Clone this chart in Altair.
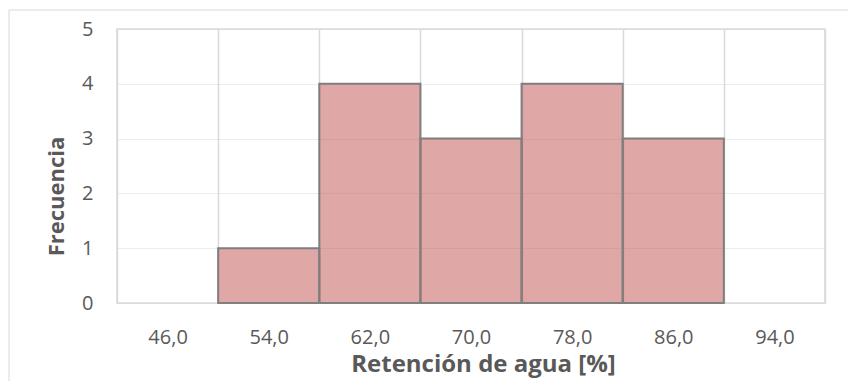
import altair as alt
import pandas as pd

categories = ["46,0", "54,0", "62,0", "70,0", "78,0", "86,0", "94,0"]
frequencies = [0, 1, 4, 3, 4, 3, 0]

df = pd.DataFrame({"cat": categories, "freq": frequencies})

FONT = "Open Sans"
GRAY = "#595959"

bars = alt.Chart(df).transform_filter("datum.freq > 0").mark_bar(
    color="#c0504d", fillOpacity=0.5, stroke="#7f7f7f", strokeWidth=2
).encode(
    x=alt.X("cat:N", sort=categories,
            scale=alt.Scale(domain=categories, paddingInner=0, paddingOuter=0),
            axis=alt.Axis(title="Retención de agua [%]", labelAngle=0,
                          tickBand="extent", ticks=False, domain=False,
                          grid=True, gridColor="#d9d9d9", gridWidth=1.5,
                          labelFont=FONT, labelFontSize=20, labelColor=GRAY,
                          labelPadding=24,
                          titleFont=FONT, titleFontSize=24, titleFontWeight="bold",
                          titleColor=GRAY, titleX=366, titleY=68,
                          titleBaseline="alphabetic", titleAlign="center")),
    y=alt.Y("freq:Q", scale=alt.Scale(domain=[0, 5], nice=False),
            axis=alt.Axis(title="Frecuencia", values=[0, 1, 2, 3, 4, 5],
                          format="d", ticks=False, domain=False,
                          grid=True, gridColor="#d9d9d9", gridWidth=1,
                          gridDash=[1, 1],
                          labelFont=FONT, labelFontSize=20, labelColor=GRAY,
                          labelPadding=24,
                          titleFont=FONT, titleFontSize=22, titleFontWeight="bold",
                          titleColor=GRAY, titleAngle=-90, titleX=-54, titleY=167,
                          titleBaseline="alphabetic", titleAlign="center")),
)

frame_df = pd.DataFrame({"k": [0]})
frame_top = alt.Chart(frame_df).mark_rule(color="#d9d9d9", strokeWidth=1).encode(
    x=alt.value(-108), x2=alt.value(740), y=alt.value(-19)
)
frame_left = alt.Chart(frame_df).mark_rule(color="#d9d9d9", strokeWidth=1).encode(
    x=alt.value(-108), y=alt.value(-19), y2=alt.value(380)
)

chart = alt.layer(frame_top, frame_left, bars).properties(
    width=708, height=274,
    padding={"left": 109, "top": 21, "right": 23, "bottom": 78},
    autosize=alt.AutoSizeParams(type="none"),
    background="white",
).configure_view(stroke="#d9d9d9", strokeWidth=1.5)

chart.save("out.html", embed_options={"renderer": "svg", "actions": False})
